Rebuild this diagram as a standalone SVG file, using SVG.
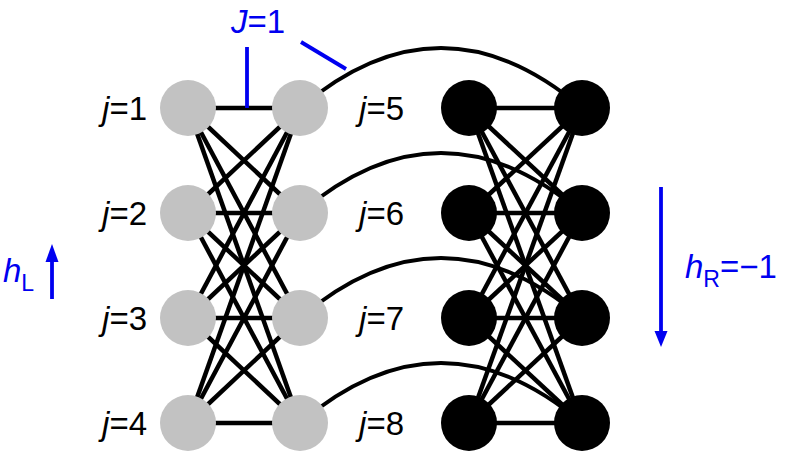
<svg xmlns="http://www.w3.org/2000/svg" width="786" height="451" viewBox="0 0 786 451">
<style>
.e{stroke:#000;stroke-width:4.5;fill:none}
.arc{stroke:#000;stroke-width:3.8;fill:none}
.g{fill:#c2c2c2}
.b{fill:#000}
.lbl{font-family:"Liberation Sans",Arial,sans-serif;font-size:33px;fill:#000}
.blue{font-family:"Liberation Sans",Arial,sans-serif;font-size:33px;fill:#0000f0}
.bl{stroke:#0000f0;stroke-width:3.8;fill:none}
.ahd{fill:#0000f0}
</style>
<g id="connectors">
<g id="left-edges">
<line class="e" x1="188" y1="108" x2="300" y2="108"/><line class="e" x1="188" y1="108" x2="300" y2="213"/><line class="e" x1="188" y1="108" x2="300" y2="318"/><line class="e" x1="188" y1="108" x2="300" y2="423"/>
<line class="e" x1="188" y1="213" x2="300" y2="108"/><line class="e" x1="188" y1="213" x2="300" y2="213"/><line class="e" x1="188" y1="213" x2="300" y2="318"/><line class="e" x1="188" y1="213" x2="300" y2="423"/>
<line class="e" x1="188" y1="318" x2="300" y2="108"/><line class="e" x1="188" y1="318" x2="300" y2="213"/><line class="e" x1="188" y1="318" x2="300" y2="318"/><line class="e" x1="188" y1="318" x2="300" y2="423"/>
<line class="e" x1="188" y1="423" x2="300" y2="108"/><line class="e" x1="188" y1="423" x2="300" y2="213"/><line class="e" x1="188" y1="423" x2="300" y2="318"/><line class="e" x1="188" y1="423" x2="300" y2="423"/>
</g>
<g id="right-edges">
<line class="e" x1="469" y1="108" x2="582" y2="108"/><line class="e" x1="469" y1="108" x2="582" y2="213"/><line class="e" x1="469" y1="108" x2="582" y2="318"/><line class="e" x1="469" y1="108" x2="582" y2="423"/>
<line class="e" x1="469" y1="213" x2="582" y2="108"/><line class="e" x1="469" y1="213" x2="582" y2="213"/><line class="e" x1="469" y1="213" x2="582" y2="318"/><line class="e" x1="469" y1="213" x2="582" y2="423"/>
<line class="e" x1="469" y1="318" x2="582" y2="108"/><line class="e" x1="469" y1="318" x2="582" y2="213"/><line class="e" x1="469" y1="318" x2="582" y2="318"/><line class="e" x1="469" y1="318" x2="582" y2="423"/>
<line class="e" x1="469" y1="423" x2="582" y2="108"/><line class="e" x1="469" y1="423" x2="582" y2="213"/><line class="e" x1="469" y1="423" x2="582" y2="318"/><line class="e" x1="469" y1="423" x2="582" y2="423"/>
</g>
<g id="arcs">
<path class="arc" d="M300,108 Q441,-12 582,108"/>
<path class="arc" d="M300,213 Q441,93 582,213"/>
<path class="arc" d="M300,318 Q441,198 582,318"/>
<path class="arc" d="M300,423 Q441,303 582,423"/>
</g>
</g>
<g id="nodes">
<g id="n1"><circle class="g" cx="188" cy="108" r="28"/></g>
<g id="n1b"><circle class="g" cx="300" cy="108" r="28"/></g>
<g id="n2"><circle class="g" cx="188" cy="213" r="28"/></g>
<g id="n2b"><circle class="g" cx="300" cy="213" r="28"/></g>
<g id="n3"><circle class="g" cx="188" cy="318" r="28"/></g>
<g id="n3b"><circle class="g" cx="300" cy="318" r="28"/></g>
<g id="n4"><circle class="g" cx="188" cy="423" r="28"/></g>
<g id="n4b"><circle class="g" cx="300" cy="423" r="28"/></g>
<g id="n5"><circle class="b" cx="469" cy="108" r="28"/></g>
<g id="n5b"><circle class="b" cx="582" cy="108" r="28"/></g>
<g id="n6"><circle class="b" cx="469" cy="213" r="28"/></g>
<g id="n6b"><circle class="b" cx="582" cy="213" r="28"/></g>
<g id="n7"><circle class="b" cx="469" cy="318" r="28"/></g>
<g id="n7b"><circle class="b" cx="582" cy="318" r="28"/></g>
<g id="n8"><circle class="b" cx="469" cy="423" r="28"/></g>
<g id="n8b"><circle class="b" cx="582" cy="423" r="28"/></g>
</g>
<g id="labels">
<text class="lbl" x="147" y="120" text-anchor="end"><tspan font-style="italic">j</tspan>=1</text>
<text class="lbl" x="147" y="225" text-anchor="end"><tspan font-style="italic">j</tspan>=2</text>
<text class="lbl" x="147" y="330" text-anchor="end"><tspan font-style="italic">j</tspan>=3</text>
<text class="lbl" x="147" y="435" text-anchor="end"><tspan font-style="italic">j</tspan>=4</text>
<text class="lbl" x="404" y="120" text-anchor="end"><tspan font-style="italic">j</tspan>=5</text>
<text class="lbl" x="404" y="225" text-anchor="end"><tspan font-style="italic">j</tspan>=6</text>
<text class="lbl" x="404" y="330" text-anchor="end"><tspan font-style="italic">j</tspan>=7</text>
<text class="lbl" x="404" y="435" text-anchor="end"><tspan font-style="italic">j</tspan>=8</text>
</g>
<g id="coupling">
<text class="blue" x="231" y="33"><tspan font-style="italic">J</tspan>=1</text>
<line class="bl" x1="247" y1="47" x2="247" y2="108"/>
<line class="bl" x1="301" y1="42" x2="346" y2="69"/>
</g>
<g id="hL">
<text class="blue" x="3" y="282"><tspan font-style="italic">h</tspan><tspan font-size="23" dy="9">L</tspan></text>
<line class="bl" x1="52" y1="299" x2="52" y2="260"/>
<polygon class="ahd" points="52,244 58.5,262 45.5,262"/>
</g>
<g id="hR">
<text class="blue" x="685" y="278"><tspan font-style="italic">h</tspan><tspan font-size="23" dy="9">R</tspan><tspan dy="-9">=−1</tspan></text>
<line class="bl" x1="661" y1="187" x2="661" y2="335"/>
<polygon class="ahd" points="661,347 667.5,331 654.5,331"/>
</g>
</svg>
